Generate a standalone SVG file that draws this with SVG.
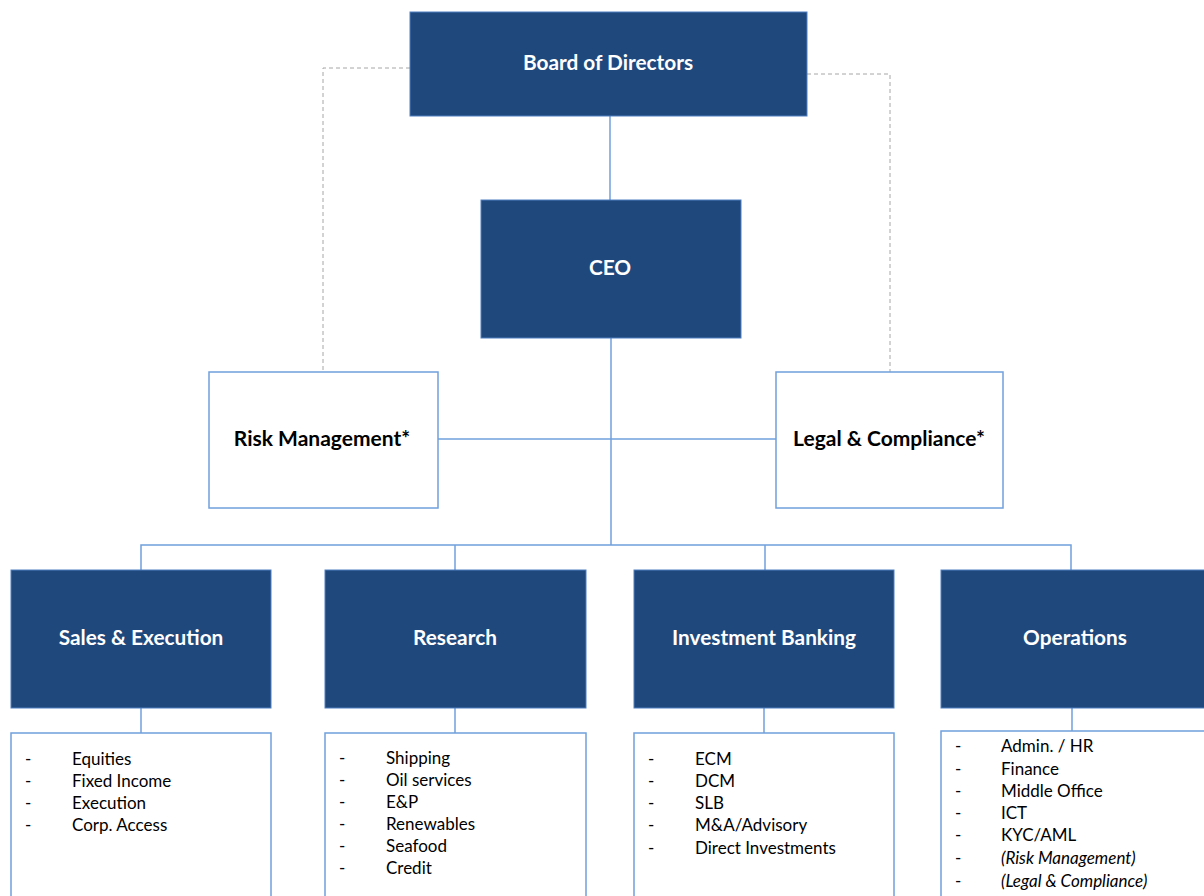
<svg xmlns="http://www.w3.org/2000/svg" width="1204" height="896" viewBox="0 0 1204 896">
<style>
.dark{fill:#1f497d;stroke:#4f7fbf;stroke-width:1}
.light{fill:#ffffff;stroke:#6fa0dc;stroke-width:1.5}
.wt{font-family:Lato,"Liberation Sans",sans-serif;font-weight:bold;font-size:20.8px;fill:#ffffff;text-anchor:middle}
.bt{font-family:Lato,"Liberation Sans",sans-serif;font-weight:bold;font-size:21px;fill:#000000;text-anchor:middle}
.li{font-family:Lato,"Liberation Sans",sans-serif;font-size:17px;fill:#000000}
.it{font-style:italic}
.con{fill:none;stroke:#6fa0dc;stroke-width:1.5}
.dash{fill:none;stroke:#a6a6a6;stroke-width:1;stroke-dasharray:4 3}
</style>
<rect width="1204" height="896" fill="#ffffff"/>
<g id="connectors">
<path class="dash" d="M410,68 H323 V372"/>
<path class="dash" d="M807,74 H890 V372"/>
<path class="con" d="M610,116 V200"/>
<path class="con" d="M611,338 V545"/>
<path class="con" d="M438,439 H776"/>
<path class="con" d="M141,570 V545 H1071 V570"/>
<path class="con" d="M455,545 V570"/>
<path class="con" d="M765,545 V570"/>
<path class="con" d="M141,708 V733"/>
<path class="con" d="M455,708 V733"/>
<path class="con" d="M764,708 V733"/>
<path class="con" d="M1072,708 V731"/>
</g>
<g id="board">
<rect class="dark" x="410" y="12" width="397" height="104"/>
<text class="wt" x="608" y="70">Board of Directors</text>
</g>
<g id="ceo">
<rect class="dark" x="481" y="200" width="260" height="138"/>
<text class="wt" x="610" y="275">CEO</text>
</g>
<g id="risk">
<rect class="light" x="209" y="372" width="229" height="136"/>
<text class="bt" x="322" y="446">Risk Management*</text>
</g>
<g id="legal">
<rect class="light" x="776" y="372" width="227" height="136"/>
<text class="bt" x="889" y="446">Legal &amp; Compliance*</text>
</g>
<g id="sales">
<rect class="dark" x="11" y="570" width="260" height="138"/>
<text class="wt" x="141" y="645">Sales &amp; Execution</text>
</g>
<g id="research">
<rect class="dark" x="325" y="570" width="261" height="138"/>
<text class="wt" x="455" y="645">Research</text>
</g>
<g id="ib">
<rect class="dark" x="634" y="570" width="260" height="138"/>
<text class="wt" x="764" y="645">Investment Banking</text>
</g>
<g id="operations">
<rect class="dark" x="941" y="570" width="270" height="138"/>
<text class="wt" x="1075" y="645">Operations</text>
</g>
<g id="sales-list">
<rect class="light" x="11" y="733" width="260" height="180"/>
<text class="li" x="25" y="765">-</text><text class="li" x="72" y="765">Equities</text>
<text class="li" x="25" y="787">-</text><text class="li" x="72" y="787">Fixed Income</text>
<text class="li" x="25" y="809">-</text><text class="li" x="72" y="809">Execution</text>
<text class="li" x="25" y="831">-</text><text class="li" x="72" y="831">Corp. Access</text>
</g>
<g id="research-list">
<rect class="light" x="325" y="733" width="261" height="180"/>
<text class="li" x="339" y="764">-</text><text class="li" x="386" y="764">Shipping</text>
<text class="li" x="339" y="786">-</text><text class="li" x="386" y="786">Oil services</text>
<text class="li" x="339" y="808">-</text><text class="li" x="386" y="808">E&amp;P</text>
<text class="li" x="339" y="830">-</text><text class="li" x="386" y="830">Renewables</text>
<text class="li" x="339" y="852">-</text><text class="li" x="386" y="852">Seafood</text>
<text class="li" x="339" y="874">-</text><text class="li" x="386" y="874">Credit</text>
</g>
<g id="ib-list">
<rect class="light" x="634" y="733" width="260" height="180"/>
<text class="li" x="648" y="765">-</text><text class="li" x="695" y="765">ECM</text>
<text class="li" x="648" y="787">-</text><text class="li" x="695" y="787">DCM</text>
<text class="li" x="648" y="809">-</text><text class="li" x="695" y="809">SLB</text>
<text class="li" x="648" y="831">-</text><text class="li" x="695" y="831">M&amp;A/Advisory</text>
<text class="li" x="648" y="854">-</text><text class="li" x="695" y="854">Direct Investments</text>
</g>
<g id="operations-list">
<rect class="light" x="941" y="731" width="270" height="180"/>
<text class="li" x="955" y="752">-</text><text class="li" x="1001" y="752">Admin. / HR</text>
<text class="li" x="955" y="775">-</text><text class="li" x="1001" y="775">Finance</text>
<text class="li" x="955" y="797">-</text><text class="li" x="1001" y="797">Middle Office</text>
<text class="li" x="955" y="819">-</text><text class="li" x="1001" y="819">ICT</text>
<text class="li" x="955" y="841">-</text><text class="li" x="1001" y="841">KYC/AML</text>
<text class="li" x="955" y="864">-</text><text class="li it" x="1001" y="864">(Risk Management)</text>
<text class="li" x="955" y="887">-</text><text class="li it" x="1001" y="887">(Legal &amp; Compliance)</text>
</g>
</svg>
